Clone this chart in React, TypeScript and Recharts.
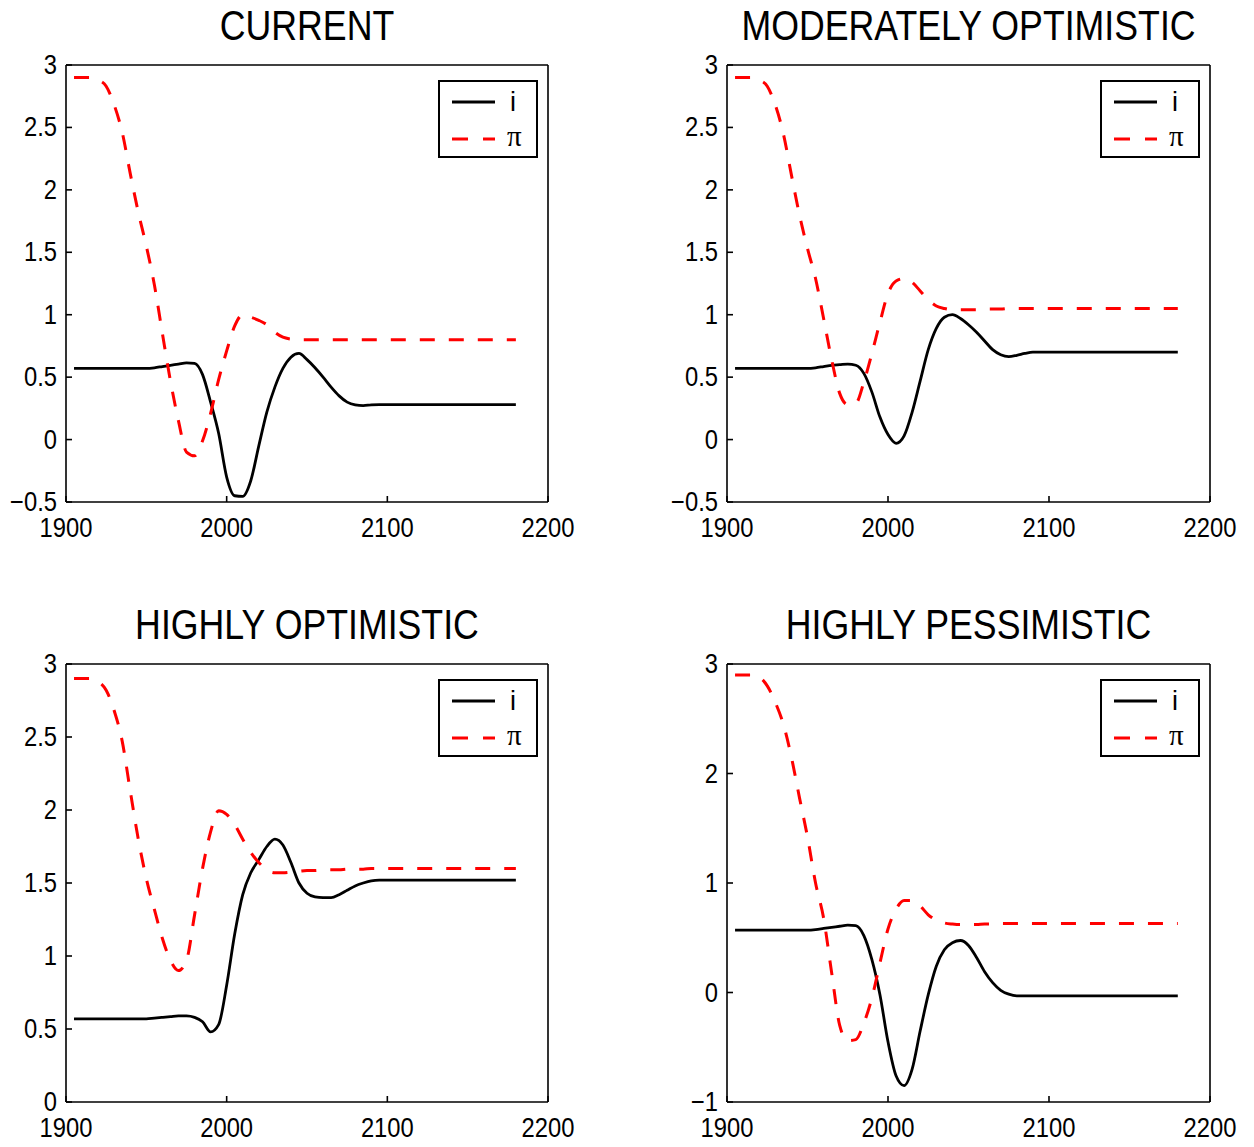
import React from 'react';
import { LineChart, Line, XAxis, YAxis, Legend } from 'recharts';

// years shared by every panel
const years = [
  1905, 1910, 1915, 1920, 1925, 1930, 1935, 1940, 1945, 1950,
  1955, 1960, 1965, 1970, 1975, 1980, 1985, 1990, 1995, 2000,
  2005, 2010, 2015, 2020, 2025, 2030, 2035, 2040, 2045, 2050,
  2055, 2060, 2065, 2070, 2075, 2080, 2085, 2090, 2095, 2100,
  2140, 2180,
];

const xTicks = [1900, 2000, 2100, 2200];

// CURRENT
const currentI = [
  0.57, 0.57, 0.57, 0.57, 0.57, 0.57, 0.57, 0.57, 0.57, 0.57,
  0.575, 0.585, 0.595, 0.605, 0.615, 0.61, 0.52, 0.3, 0.05, -0.3,
  -0.45, -0.455, -0.33, -0.05, 0.22, 0.42, 0.57, 0.66, 0.69, 0.64,
  0.575, 0.5, 0.42, 0.35, 0.3, 0.278, 0.272, 0.278, 0.28, 0.28,
  0.28, 0.28,
];
const currentPi = [
  2.9, 2.9, 2.9, 2.88, 2.83, 2.68, 2.46, 2.13, 1.82, 1.55,
  1.24, 0.85, 0.47, 0.15, -0.1, -0.13, -0.01, 0.21, 0.48, 0.71,
  0.91, 1.0, 0.98, 0.955, 0.92, 0.86, 0.82, 0.805, 0.8, 0.8,
  0.8, 0.8, 0.8, 0.8, 0.8, 0.8, 0.8, 0.8, 0.8, 0.8,
  0.8, 0.8,
];

// MODERATELY OPTIMISTIC
const modOptI = [
  0.57, 0.57, 0.57, 0.57, 0.57, 0.57, 0.57, 0.57, 0.57, 0.57,
  0.575, 0.585, 0.595, 0.6, 0.605, 0.595, 0.53, 0.38, 0.18, 0.04,
  -0.03, 0.03, 0.22, 0.47, 0.72, 0.89, 0.98, 1.0, 0.97, 0.92,
  0.86, 0.79, 0.72, 0.68, 0.665, 0.675, 0.69, 0.7, 0.7, 0.7,
  0.7, 0.7,
];
const modOptPi = [
  2.9, 2.9, 2.9, 2.88, 2.83, 2.68, 2.45, 2.12, 1.8, 1.53,
  1.29, 0.97, 0.64, 0.37, 0.28, 0.29, 0.46, 0.69, 0.94, 1.17,
  1.27, 1.29, 1.26, 1.19, 1.12, 1.07, 1.05, 1.04, 1.04, 1.04,
  1.04, 1.045, 1.045, 1.045, 1.05, 1.05, 1.05, 1.05, 1.05, 1.05,
  1.05, 1.05,
];

// HIGHLY OPTIMISTIC
const highOptI = [
  0.57, 0.57, 0.57, 0.57, 0.57, 0.57, 0.57, 0.57, 0.57, 0.57,
  0.575, 0.58, 0.585, 0.59, 0.59, 0.58, 0.55, 0.48, 0.53, 0.8,
  1.15, 1.42, 1.57, 1.66, 1.75, 1.8, 1.76, 1.64, 1.5, 1.43,
  1.405, 1.4, 1.4, 1.42, 1.45, 1.48, 1.5, 1.515, 1.52, 1.52,
  1.52, 1.52,
];
const highOptPi = [
  2.9, 2.9, 2.9, 2.88, 2.82, 2.68, 2.47, 2.13, 1.8, 1.53,
  1.32, 1.12, 0.97, 0.9, 0.97, 1.28, 1.6, 1.85, 1.995, 1.97,
  1.9, 1.8, 1.71, 1.64, 1.59, 1.57, 1.57, 1.575, 1.58, 1.585,
  1.585, 1.59, 1.59, 1.59, 1.595, 1.595, 1.595, 1.6, 1.6, 1.6,
  1.6, 1.6,
];

// HIGHLY PESSIMISTIC
const highPesI = [
  0.57, 0.57, 0.57, 0.57, 0.57, 0.57, 0.57, 0.57, 0.57, 0.57,
  0.575, 0.585, 0.595, 0.605, 0.615, 0.61, 0.52, 0.3, -0.02, -0.45,
  -0.76, -0.85, -0.7, -0.35, -0.02, 0.24, 0.39, 0.455, 0.475, 0.43,
  0.32, 0.19, 0.09, 0.02, -0.015, -0.03, -0.03, -0.03, -0.03, -0.03,
  -0.03, -0.03,
];
const highPesPi = [
  2.9, 2.9, 2.9, 2.88, 2.8, 2.65, 2.45, 2.15, 1.78, 1.42,
  1.0, 0.68, 0.18, -0.3, -0.44, -0.43, -0.28, -0.05, 0.27, 0.58,
  0.76, 0.84, 0.84, 0.79, 0.71, 0.66, 0.635, 0.625, 0.62, 0.62,
  0.62, 0.625, 0.625, 0.63, 0.63, 0.63, 0.63, 0.63, 0.63, 0.63,
  0.63, 0.63,
];

const ticksHalf = [-0.5, 0, 0.5, 1, 1.5, 2, 2.5, 3];
const ticksPos = [0, 0.5, 1, 1.5, 2, 2.5, 3];
const ticksOne = [-1, 0, 1, 2, 3];

// i is drawn on the bottom/left axes, pi on the top/right ones (same domains)
const series = [
  { key: 'i', name: 'i', color: '#000000', width: 2.8, dash: undefined as string | undefined, xId: 'b', yId: 'l' },
  { key: 'pi', name: '\u03c0', color: '#ff0000', width: 3, dash: '15 14', xId: 't', yId: 'r' },
];

const FONT = '"Liberation Sans", Arial, Helvetica, sans-serif';
const AXIS_W = 66;
const TOP_M = 22;
const RIGHT_M = 35;
const X_AXIS_H = 42;
const boxLine = { stroke: '#000', strokeWidth: 1.6 };

const panels = [
  { title: 'CURRENT', i: currentI, pi: currentPi, domain: [-0.5, 3], ticks: ticksHalf, plotLeft: 66, plotTop: 65, plotW: 482, plotH: 437 },
  { title: 'MODERATELY OPTIMISTIC', i: modOptI, pi: modOptPi, domain: [-0.5, 3], ticks: ticksHalf, plotLeft: 727, plotTop: 65, plotW: 483, plotH: 437 },
  { title: 'HIGHLY OPTIMISTIC', i: highOptI, pi: highOptPi, domain: [0, 3], ticks: ticksPos, plotLeft: 66, plotTop: 664, plotW: 482, plotH: 438 },
  { title: 'HIGHLY PESSIMISTIC', i: highPesI, pi: highPesPi, domain: [-1, 3], ticks: ticksOne, plotLeft: 727, plotTop: 664, plotW: 483, plotH: 438 },
];

const fmt = (v: number) => String(v).replace('-', '\u2212');

const XTick = (props: any) => {
  const { x, y, payload } = props;
  return (
    <g transform={`translate(${x},${y}) scale(0.88,1)`}>
      <text x={0} y={35} textAnchor="middle" fontSize={27} fill="#000" fontFamily={FONT}>
        {fmt(payload.value)}
      </text>
    </g>
  );
};

const YTick = (props: any) => {
  const { x, y, payload } = props;
  return (
    <g transform={`translate(${x - 9},${y + 9}) scale(0.88,1)`}>
      <text x={0} y={0} textAnchor="end" fontSize={27} fill="#000" fontFamily={FONT}>
        {fmt(payload.value)}
      </text>
    </g>
  );
};

const LegendBox = () => (
  <svg width={100} height={78} style={{ display: 'block' }}>
    <rect x={1} y={1} width={98} height={76} fill="#fff" stroke="#000" strokeWidth={2} />
    {series.map((s, k) => (
      <g key={s.key}>
        <line x1={14} x2={57} y1={22 + k * 37} y2={22 + k * 37} stroke={s.color} strokeWidth={s.width} strokeDasharray={k === 0 ? undefined : '16 15'} />
        <text
          x={k === 0 ? 72 : 69}
          y={k === 0 ? 31 : 66}
          fontSize={k === 0 ? 27 : 29}
          fontFamily={k === 0 ? FONT : '"Liberation Serif", "DejaVu Serif", serif'}
          fill="#000"
        >
          {s.name}
        </text>
      </g>
    ))}
  </svg>
);

function Panel({ p }: { p: (typeof panels)[number] }) {
  const rows = years.map((year, k) => ({ year, i: p.i[k], pi: p.pi[k] }));
  const width = AXIS_W + p.plotW + 1 + RIGHT_M;
  const height = TOP_M + 1 + p.plotH + X_AXIS_H;
  return (
    <div style={{ position: 'absolute', left: p.plotLeft - AXIS_W, top: p.plotTop - TOP_M - 1 }}>
      <LineChart width={width} height={height} data={rows} margin={{ top: TOP_M, right: RIGHT_M, bottom: 0, left: 0 }}>
        <XAxis
          xAxisId="b"
          dataKey="year"
          type="number"
          domain={[1900, 2200]}
          ticks={xTicks}
          interval={0}
          height={X_AXIS_H}
          tickSize={-6}
          tickMargin={6}
          axisLine={boxLine}
          tickLine={boxLine}
          tick={XTick}
        />
        <XAxis
          xAxisId="t"
          orientation="top"
          dataKey="year"
          type="number"
          domain={[1900, 2200]}
          ticks={xTicks}
          interval={0}
          height={1}
          tickSize={-6}
          axisLine={boxLine}
          tickLine={boxLine}
          tick={false}
        />
        <YAxis
          yAxisId="l"
          type="number"
          domain={p.domain}
          ticks={p.ticks}
          interval={0}
          width={AXIS_W}
          tickSize={-6}
          tickMargin={6}
          axisLine={boxLine}
          tickLine={boxLine}
          tick={YTick}
        />
        <YAxis
          yAxisId="r"
          orientation="right"
          type="number"
          domain={p.domain}
          ticks={p.ticks}
          interval={0}
          width={1}
          tickSize={-6}
          axisLine={boxLine}
          tickLine={boxLine}
          tick={false}
        />
        <Legend
          layout="vertical"
          align="center"
          verticalAlign="middle"
          content={LegendBox}
          wrapperStyle={{ left: AXIS_W + p.plotW - 110, top: TOP_M + 1 + 15, width: 100, height: 78 }}
        />
        {series.map((s) => (
          <Line
            key={s.key}
            xAxisId={s.xId}
            yAxisId={s.yId}
            type="monotone"
            dataKey={s.key}
            name={s.name}
            stroke={s.color}
            strokeWidth={s.width}
            strokeDasharray={s.dash}
            dot={false}
            activeDot={false}
            isAnimationActive={false}
          />
        ))}
      </LineChart>
    </div>
  );
}

export default function App() {
  return (
    <div style={{ position: 'absolute', left: 0, top: 0, width: 1254, height: 1147, overflow: 'hidden', background: '#fff' }}>
      {panels.map((p) => (
        <Panel key={p.title} p={p} />
      ))}
      <svg width={1254} height={1147} style={{ position: 'absolute', left: 0, top: 0, pointerEvents: 'none' }}>
        {panels.map((p) => (
          <g key={p.title} transform={`translate(${p.plotLeft + p.plotW / 2},${p.plotTop - 25}) scale(0.85,1)`}>
            <text x={0} y={0} textAnchor="middle" fontSize={42} fontFamily={FONT} fill="#000">
              {p.title}
            </text>
          </g>
        ))}
      </svg>
    </div>
  );
}
